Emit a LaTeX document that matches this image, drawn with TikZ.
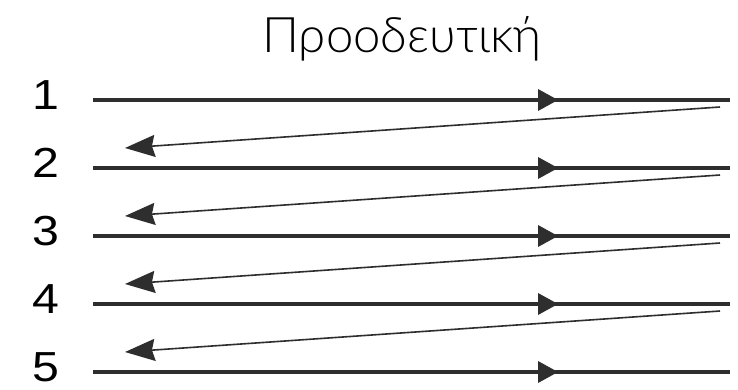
\documentclass[tikz,border=0pt]{standalone}
\usepackage{fontspec}
\setmainfont{Liberation Sans}
\newfontfamily\titlefont{Lato Light}
\usetikzlibrary{arrows.meta}
\definecolor{linegray}{HTML}{2E2E2E}
\begin{document}
\begin{tikzpicture}[x=1pt,y=-1pt,
  hline/.style={line width=3.5pt, draw=linegray},
  midtip/.style={fill=linegray},
  back/.style={line width=1.6pt, draw=linegray, -{Stealth[length=30pt,width=22pt,inset=3pt]}},
  numlbl/.style={font=\fontsize{42}{42}\selectfont, text=black, inner sep=0pt}]
\useasboundingbox[fill=white] (0,0) rectangle (738,389);
\node[font=\titlefont\fontsize{49}{49}\selectfont, anchor=base, inner sep=0pt] (title) at (402,52) {Προοδευτική};
\foreach \i/\y in {1/100,2/168,3/236,4/304,5/372}{
  \node[numlbl] (n\i) at (46,\y-5) {\scalebox{1.15}[1]{\i}};
  \coordinate (L\i) at (93,\y);
  \coordinate (M\i) at (558,\y);
  \coordinate (R\i) at (730,\y);
  \draw[hline] (L\i) -- (R\i);
  \fill[midtip] (M\i) -- ++(-20,-11) -- ++(0,22) -- cycle;
}
\foreach \i/\y in {1/100,2/168,3/236,4/304}{
  \coordinate (D\i) at (720,\y+7);
  \coordinate (E\i) at (125,\y+48);
  \draw[back] (D\i) -- (E\i);
}
\end{tikzpicture}
\end{document}
